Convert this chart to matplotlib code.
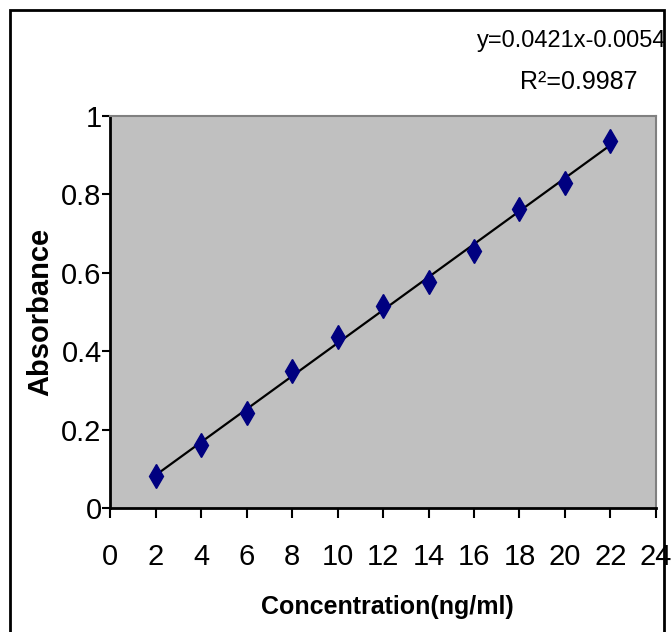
import matplotlib
matplotlib.use("Agg")
import matplotlib.pyplot as plt
import numpy as np
from matplotlib.patches import Rectangle

#### Data
conc = [2, 4, 6, 8, 10, 12, 14, 16, 18, 20, 22]          # ng/ml
absorb = [0.083, 0.161, 0.244, 0.351, 0.437, 0.516,
          0.576, 0.657, 0.764, 0.830, 0.937]
xticks = [0, 2, 4, 6, 8, 10, 12, 14, 16, 18, 20, 22, 24]
yticks = [0, 0.2, 0.4, 0.6, 0.8, 1]
ytick_labels = ["0", "0.2", "0.4", "0.6", "0.8", "1"]
eq_text = "y=0.0421x-0.0054"
r2_text = "R²=0.9987"

plt.rcParams['font.family'] = ['Liberation Sans', 'DejaVu Sans']

fig = plt.figure(figsize=(6.71, 6.32), dpi=100)
ax = fig.add_axes([0.164, 0.1957, 0.8136, 0.6208])
ax.set_facecolor('#C0C0C0')

# trendline (least squares through the points)
k, b = np.polyfit(conc, absorb, 1)
xl = np.array([conc[0], conc[-1]])
ax.plot(xl, k*xl + b, color='black', lw=1.6, zorder=2)
ax.plot(conc, absorb, linestyle='none', marker='d', ms=12,
        color='#000080', mec='#000080', zorder=3)

ax.set_xlim(0, 24)
ax.set_ylim(0, 1)
ax.set_xticks(xticks)
ax.set_xticklabels([str(t) for t in xticks])
ax.set_yticks(yticks)
ax.set_yticklabels(ytick_labels)
ax.tick_params(axis='x', direction='out', length=7, width=1.5, pad=18, labelsize=21)
ax.tick_params(axis='y', direction='out', length=6, width=1.5, pad=0, labelsize=21)

for s in ['top', 'right']:
   ax.spines[s].set_color('#808080')
   ax.spines[s].set_linewidth(1.5)
for s in ['left', 'bottom']:
   ax.spines[s].set_color('black')
   ax.spines[s].set_linewidth(2)

fig.text(0.577, 0.04, "Concentration(ng/ml)", ha='center', va='center',
         fontsize=18, fontweight='bold')
fig.text(0.06, 0.506, "Absorbance", ha='center', va='center', rotation=90,
         fontsize=21, fontweight='bold')

fig.text(0.993, 0.935, eq_text, ha='right', va='center', fontsize=17)
fig.text(0.95, 0.87, r2_text, ha='right', va='center', fontsize=18)

# outer chart frame
fig.patches.append(Rectangle((10/671, -0.1), (664-10)/671, 1.1 - 10/632,
                             transform=fig.transFigure, fill=False,
                             edgecolor='black', lw=2, clip_on=False))

fig.savefig("out.png", dpi=100)
